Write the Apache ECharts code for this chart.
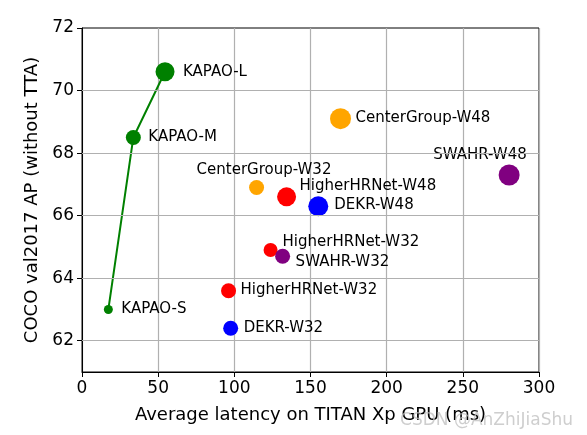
<!DOCTYPE html>
<html>
<head>
<meta charset="utf-8">
<script src="https://cdn.jsdelivr.net/npm/echarts@6/dist/echarts.min.js"></script>
<style>html,body{margin:0;padding:0;background:#fff}#c{width:587px;height:435px}</style>
</head>
<body>
<div id="c"></div>
<script>
// ---- data ----
const models = ['KAPAO-S','KAPAO-M','KAPAO-L','CenterGroup-W48','CenterGroup-W32','HigherHRNet-W48','DEKR-W48','SWAHR-W48','HigherHRNet-W32','SWAHR-W32','HigherHRNet-W32','DEKR-W32'];
const latency = [17.3, 33.7, 54.5, 169.7, 114.6, 134.3, 155.1, 280.4, 123.8, 131.7, 96.2, 97.6];
const ap =      [63.0, 68.5, 70.6, 69.1, 66.9, 66.6, 66.3, 67.3, 64.9, 64.7, 63.6, 62.4];
const family =  ['KAPAO','KAPAO','KAPAO','CenterGroup','CenterGroup','HigherHRNet','DEKR','SWAHR','HigherHRNet','SWAHR','HigherHRNet','DEKR'];
const markerSize = [9, 15, 19, 21, 15, 19, 20, 21, 14, 15, 15, 15];
const kapaoIdx = [0, 1, 2];
const xTicks = [0, 50, 100, 150, 200, 250, 300];
const yTicks = [62, 64, 66, 68, 70, 72];

// ---- styles ----
const familyColor = {KAPAO:'#008000', CenterGroup:'#FFA500', HigherHRNet:'#FF0000', DEKR:'#0000FF', SWAHR:'#800080'};
const labelOffset = [[13,0],[15,0],[18,0],[15,-1],[-60,-17],[13,-11],[16,-1],[-76,-20],[12,-8],[13,6],[12,-1],[13,0]];
const FONT = 'DejaVu Sans';

const chart = echarts.init(document.getElementById('c'));
const pts = models.map((m, i) => ({
  name: m,
  value: [latency[i], ap[i]],
  symbolSize: markerSize[i],
  itemStyle: {color: familyColor[family[i]], opacity: 1},
  label: {show: true, formatter: m, position: 'inside', align: 'left', verticalAlign: 'middle',
          offset: labelOffset[i], color: '#000', fontFamily: FONT, fontSize: 15}
}));

chart.setOption({
  animation: false,
  grid: {left: 82, top: 28, right: 48, bottom: 63, show: true, borderColor: '#000', borderWidth: 1, backgroundColor: 'transparent'},
  xAxis: {
    type: 'value', min: 0, max: 300, interval: 50,
    name: 'Average latency on TITAN Xp GPU (ms)', nameLocation: 'middle', nameGap: 34,
    nameTextStyle: {fontFamily: FONT, fontSize: 18, color: '#000'},
    axisLine: {show: true, lineStyle: {color: '#000', width: 1}},
    axisTick: {show: true, inside: false, length: 5, lineStyle: {color: '#000'}},
    axisLabel: {fontFamily: FONT, fontSize: 17, color: '#000', margin: 8},
    splitLine: {show: true, lineStyle: {color: '#b0b0b0', width: 1.2}}
  },
  yAxis: {
    type: 'value', min: 61, max: 72,
    name: 'COCO val2017 AP (without TTA)', nameLocation: 'middle', nameGap: 38,
    nameTextStyle: {fontFamily: FONT, fontSize: 18, color: '#000'},
    axisLine: {show: true, lineStyle: {color: '#000', width: 1}},
    axisTick: {show: true, inside: false, length: 5, lineStyle: {color: '#000'}, customValues: yTicks},
    axisLabel: {fontFamily: FONT, fontSize: 17, color: '#000', margin: 8, customValues: yTicks},
    splitLine: {show: false}
  },
  series: [
    {
      type: 'line', silent: true, symbol: 'none', z: 2,
      data: kapaoIdx.map(i => [latency[i], ap[i]]),
      lineStyle: {color: familyColor.KAPAO, width: 2},
      markLine: {
        silent: true, symbol: 'none', label: {show: false},
        lineStyle: {color: '#b0b0b0', width: 1.2, type: 'solid'},
        data: yTicks.filter(v => v < 72).map(v => ({yAxis: v}))
      }
    },
    {
      type: 'scatter', z: 3, data: pts
    }
  ],
  graphic: [{
    type: 'text', right: 14, bottom: 6, z: 100,
    style: {text: 'CSDN @AnZhiJiaShu', fontFamily: FONT, fontSize: 17, fill: 'rgba(190,190,190,0.75)'}
  }]
});
</script>
</body>
</html>
